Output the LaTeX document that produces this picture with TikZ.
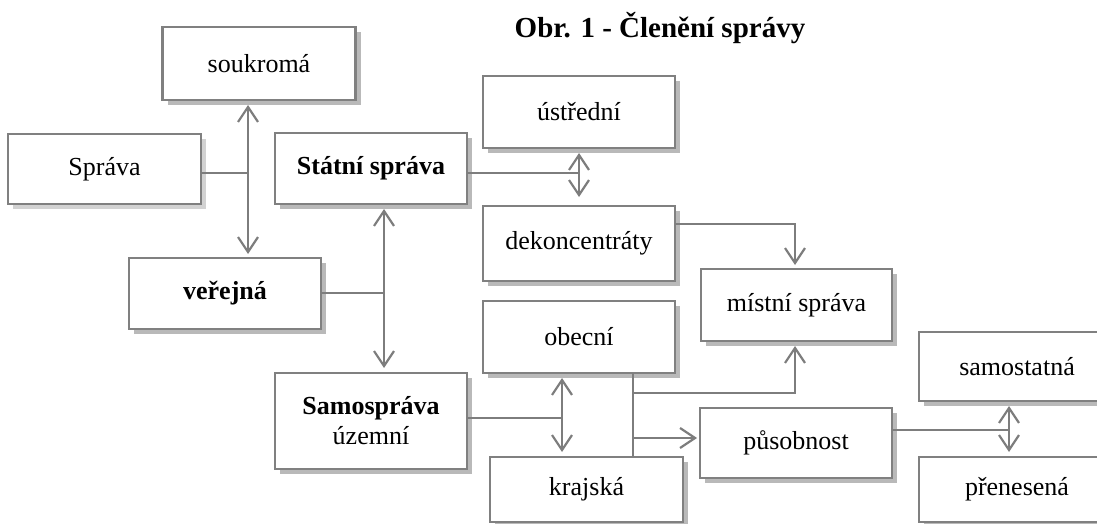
\documentclass[tikz,border=0pt]{standalone}
\usepackage{fontspec}
\setmainfont{Liberation Serif}
\usetikzlibrary{arrows.meta,shadows,calc}
\definecolor{boxline}{RGB}{128,128,128}
\definecolor{shade}{RGB}{185,185,185}
\definecolor{connc}{RGB}{125,125,125}
\tikzset{
  bx/.style={draw=boxline, line width=2.4pt, fill=white, inner sep=0pt, outer sep=0pt,
    align=center, font=\fontsize{26}{30}\selectfont,
    drop shadow={shadow xshift=5pt, shadow yshift=-5pt, fill=shade, opacity=1}},
  conn/.style={draw=connc, line width=2.2pt},
  tipd/.tip={Straight Barb[length=15pt,width=20pt,line width=2.2pt]},
  darr/.style={conn, tipd-tipd},
  sarr/.style={conn, -tipd}
}
\begin{document}
\begin{tikzpicture}[x=1pt,y=-1pt]
\useasboundingbox (0,0) rectangle (1097,524);
% title
\node[anchor=base, font=\fontsize{29}{34}\selectfont\bfseries] (title) at (660,38) {Obr. 1 - Členění správy};
% boxes
\node[bx, minimum width=193pt, minimum height=73pt] (soukroma) at (259,63.5) {soukromá};
\node[bx, minimum width=193pt, minimum height=70pt, drop shadow={shadow xshift=5pt, shadow yshift=-5pt, fill=gray!35, opacity=1}] (sprava) at (104.5,169) {Správa};
\node[bx, minimum width=192pt, minimum height=71pt, font=\fontsize{26}{30}\selectfont\bfseries] (statni) at (371,168.5) {Státní správa};
\node[bx, minimum width=192pt, minimum height=71pt, font=\fontsize{26}{30}\selectfont\bfseries] (verejna) at (225,293.5) {veřejná};
\node[bx, minimum width=192pt, minimum height=96pt] (samo) at (371,421) {\textbf{Samospráva}\\územní};
\node[bx, minimum width=192pt, minimum height=72pt] (ustredni) at (579,112) {ústřední};
\node[bx, minimum width=192pt, minimum height=75pt] (dekon) at (579,243.5) {dekoncentráty};
\node[bx, minimum width=192pt, minimum height=72pt] (obecni) at (579,337) {obecní};
\node[bx, minimum width=193pt, minimum height=65pt] (krajska) at (586.5,489.5) {krajská};
\node[bx, minimum width=191pt, minimum height=72pt] (mistni) at (796.5,305) {místní správa};
\node[bx, minimum width=192pt, minimum height=70pt] (pusob) at (796,443) {působnost};
\node[bx, minimum width=196pt, minimum height=69pt] (samost) at (1017,366.5) {samostatná};
\node[bx, minimum width=196pt, minimum height=65pt] (prenes) at (1017,489.5) {přenesená};
% junction coordinates
\coordinate (v1) at (248,173);
\coordinate (v2) at (384,293);
\coordinate (v3) at (579,173);
\coordinate (v4) at (795,224);
\coordinate (v5) at (562,418);
\coordinate (v6) at (633,393);
\coordinate (v6b) at (633,438);
\coordinate (v7) at (1009,430);
% connectors
\draw[conn] (sprava.east |- v1) -- (v1);
\draw[darr, shorten <=5pt, shorten >=4pt] (soukroma.south -| v1) -- (verejna.north -| v1);
\draw[conn] (verejna.east |- v2) -- (v2);
\draw[darr, shorten <=5pt, shorten >=5pt] (statni.south -| v2) -- (samo.north -| v2);
\draw[conn] (statni.east |- v3) -- (v3);
\draw[darr, shorten <=5pt, shorten >=9pt] (ustredni.south -| v3) -- (dekon.north -| v3);
\draw[sarr, shorten >=4pt] (dekon.east |- v4) -- (v4) -- (mistni.north -| v4);
\draw[conn] (samo.east |- v5) -- (v5);
\draw[darr, shorten <=5pt, shorten >=5pt] (obecni.south -| v5) -- (krajska.north -| v5);
\draw[conn] (obecni.south -| v6) -- (krajska.north -| v6);
\draw[sarr, shorten >=5pt] (v6) -- (v6 -| v4) -- (mistni.south -| v4);
\draw[sarr, shorten >=3pt] (v6b) -- (pusob.west |- v6b);
\draw[conn] (pusob.east |- v7) -- (v7);
\draw[darr, shorten <=5pt, shorten >=5pt] (samost.south -| v7) -- (prenes.north -| v7);
\end{tikzpicture}
\end{document}
